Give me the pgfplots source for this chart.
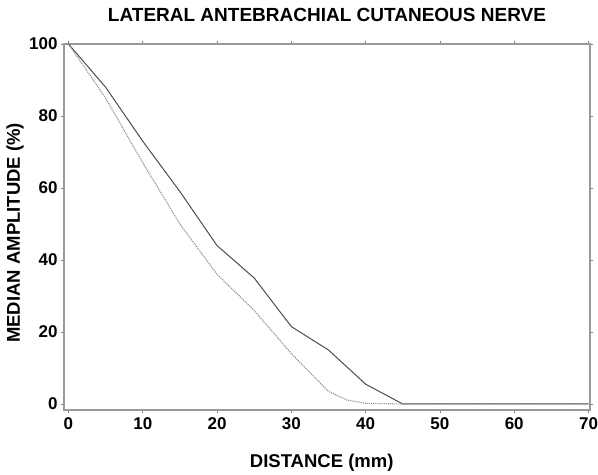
\documentclass[border=0pt]{standalone}
\usepackage{pgfplots}
\pgfplotsset{compat=1.18}
\usepackage{fontspec}
\setmainfont{Liberation Sans}
\begin{document}
\begin{tikzpicture}
\begin{axis}[
  scale only axis,
  width=526pt, height=366pt,
  xmin=-0.6, xmax=70.2,
  ymin=-1.67, ymax=100,
  xtick={0,10,...,70},
  ytick={0,20,...,100},
  tick align=outside,
  major tick length=3pt,
  tick style={gray, line width=0.8pt},
  axis line style={gray!80, line width=1.6pt},
  /pgf/number format/assume math mode=true,
  ticklabel style={font=\fontsize{17}{17}\selectfont\bfseries},
  xticklabel style={yshift=-1pt},
  title={LATERAL ANTEBRACHIAL CUTANEOUS NERVE},
  title style={font=\fontsize{19}{19}\selectfont\bfseries, at={(0.5,1.063)}, anchor=center},
  xlabel={DISTANCE (mm)},
  xlabel style={font=\fontsize{18.5}{18.5}\selectfont\bfseries, at={(0.49,-0.145)}, anchor=center},
  ylabel={MEDIAN AMPLITUDE (\%)},
  ylabel style={font=\fontsize{18.5}{18.5}\selectfont\bfseries, at={(-0.093,0.484)}, anchor=center, rotate=0},
  clip=false,
]
\addplot[color=black!70, line width=1pt] coordinates {
(0,100) (5,88) (10,73) (15,59) (20,44) (25,35) (30,21.5) (35,15) (40,5.5) (45,0) (50,0) (55,0) (60,0) (65,0) (70,0)
};
\addplot[color=black!45, line width=1.1pt, densely dotted] coordinates {
(0,100) (5,85) (10,67) (15,50) (20,36) (25,26) (30,14) (35,3.5) (37.5,1.1) (40,0.2) (45,0) (50,0) (55,0) (60,0) (65,0) (70,0)
};
\end{axis}
\pgfresetboundingbox
\path[use as bounding box] (current axis.south west) ++(-64pt,-64pt) rectangle ([shift={(8pt,44pt)}]current axis.north east);
\end{tikzpicture}
\end{document}
